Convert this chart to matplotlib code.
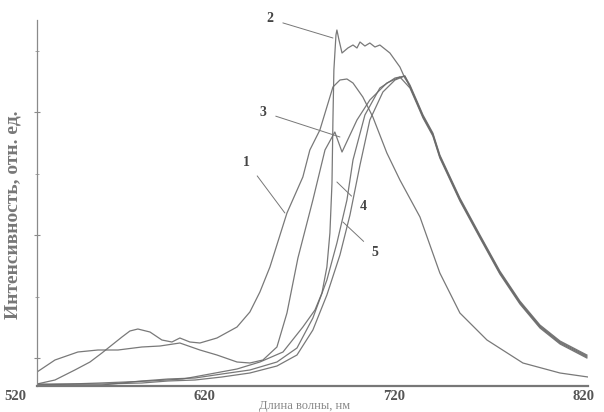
import matplotlib.pyplot as plt
from matplotlib.transforms import blended_transform_factory

# wavelength (nm) / intensity (arb. units)
wl_1 = [531.3, 540.8, 551.3, 559.3, 565.6, 570.9, 576.2, 580.4, 584.6, 591.0,
        597.3, 602.6, 606.8, 612.1, 617.4, 626.4, 637.0, 643.8, 649.1, 654.4,
        663.4, 671.8, 675.5, 680.8, 687.7, 691.4, 695.1, 698.3, 703.5, 708.8,
        716.2, 723.1, 733.7, 744.2, 754.8, 769.1, 788.1, 807.7, 822.5]
int_1 = [2, 6, 16, 24, 33, 41, 49, 55, 57, 54,
         46, 44, 48, 44, 43, 48, 59, 74, 94, 119,
         173, 209, 236, 256, 299, 306, 307, 303, 289, 269,
         233, 206, 169, 113, 73, 46, 23, 13, 9]

wl_2 = [531.3, 548.7, 564.6, 591.0, 608.4, 622.7, 637.0, 649.1, 661.3, 671.8,
        678.2, 681.9, 684.5, 686.1, 687.2, 687.7, 688.2, 689.3, 689.8, 690.9,
        692.5, 695.6, 698.3, 700.4, 702.0, 704.6, 707.2, 709.9, 712.5, 717.8,
        723.1, 725.7, 728.4, 732.1, 735.3, 740.5, 744.2, 754.8, 765.4, 775.9,
        786.5, 797.1, 807.7, 821.9]
int_2 = [1, 2, 3, 5, 7, 12, 17, 24, 34, 59,
         76, 93, 119, 153, 203, 266, 316, 351, 356, 346,
         333, 338, 341, 338, 344, 340, 343, 339, 341, 333,
         319, 308, 300, 284, 270, 252, 230, 187, 150, 114,
         84, 60, 44, 30]

wl_3 = [531.3, 540.8, 552.9, 563.5, 574.1, 586.7, 596.3, 606.8, 617.4, 626.4,
        637.0, 643.8, 650.7, 658.1, 663.4, 669.2, 677.1, 683.5, 688.7, 692.5,
        696.7, 700.4, 707.2, 716.2, 723.1, 728.4, 732.1, 735.3, 740.5, 744.2,
        754.8, 765.4, 775.9, 786.5, 797.1, 807.7, 821.9]
int_3 = [14, 26, 34, 36, 36, 39, 40, 43, 36, 31,
         24, 23, 26, 39, 73, 128, 186, 236, 254, 234,
         251, 266, 286, 303, 309, 298, 282, 268, 250, 228,
         185, 148, 112, 82, 58, 42, 28]

wl_4 = [531.3, 547.6, 565.6, 576.2, 586.7, 600.5, 614.8, 629.0, 643.8, 658.1,
        668.7, 677.1, 684.5, 689.8, 695.1, 698.3, 704.6, 712.5, 720.5, 725.7,
        728.4, 732.1, 735.3, 740.5, 744.2, 754.8, 765.4, 775.9, 786.5, 797.1,
        807.7, 821.9]
int_4 = [1, 1, 1, 3, 5, 7, 8, 12, 16, 24,
         38, 68, 106, 143, 186, 226, 271, 298, 308, 310,
         299, 283, 269, 251, 229, 186, 149, 113, 83, 59,
         43, 29]

wl_5 = [531.3, 547.6, 565.6, 586.7, 600.5, 614.8, 629.0, 643.8, 658.1, 668.7,
        677.1, 684.5, 691.4, 696.7, 702.0, 707.2, 714.1, 720.5, 725.7, 728.4,
        732.1, 735.3, 740.5, 744.2, 754.8, 765.4, 775.9, 786.5, 797.1, 807.7,
        821.9]
int_5 = [2, 2, 2, 3, 5, 6, 9, 13, 20, 31,
         56, 91, 131, 171, 221, 266, 294, 306, 310, 301,
         285, 271, 253, 231, 188, 151, 115, 85, 61, 45,
         31]

curves = [(wl_1, int_1), (wl_2, int_2), (wl_3, int_3), (wl_4, int_4), (wl_5, int_5)]

# curve number: (point on curve, label position)
labels = {
    "1": ((662.3, 173), (642.2, 224)),
    "2": ((687.7, 348), (654.4, 367)),
    "3": ((691.4, 249), (650.7, 274)),
    "4": ((689.8, 204), (703.5, 179)),
    "5": ((693.0, 164), (709.9, 134)),
}

x_ticks = [520, 620, 720, 820]

serif = ["Liberation Serif", "DejaVu Serif"]
line_col = "#6a6a6a"

fig = plt.figure(figsize=(6.04, 4.12), dpi=100)
ax = fig.add_axes([37 / 604, 26 / 412, 551 / 604, 366 / 412])

for wl, inten in curves:
    ax.plot(wl, inten, color=line_col, lw=0.9, alpha=0.9)

for name, (pt, txt) in labels.items():
    ax.annotate(name, xy=pt, xytext=txt, ha="center", va="center",
                fontsize=10, fontweight="bold", family=serif, color="#444444",
                arrowprops=dict(arrowstyle="-", color="#777777", lw=0.7,
                                shrinkA=5, shrinkB=0),
                annotation_clip=False)

ax.set_xlim(531.3, 822.5)
ax.set_ylim(0, 366)

for side in ["top", "right"]:
    ax.spines[side].set_visible(False)
ax.spines["left"].set_color("#8a8a8a")
ax.spines["left"].set_linewidth(0.9)
ax.spines["bottom"].set_color("#777777")
ax.spines["bottom"].set_linewidth(1.6)

ax.set_yticks([28, 151, 274])
ax.set_yticks([89, 212, 335], minor=True)
ax.tick_params(axis="y", which="major", direction="inout", length=5,
               color="#8a8a8a", labelleft=False)
ax.tick_params(axis="y", which="minor", direction="inout", length=2.5,
               color="#9a9a9a")

# 520 lies left of the y axis in the scan, so it is written as text
ax.set_xticks([t for t in x_ticks if t >= 531.3])
ax.tick_params(axis="x", length=0, pad=3)
for lbl in ax.get_xticklabels():
    lbl.set_fontfamily(serif)
    lbl.set_fontweight("bold")
    lbl.set_fontsize(10.5)
    lbl.set_color("#555555")
trans = blended_transform_factory(ax.transData, ax.transAxes)
ax.text(x_ticks[0], -0.012, str(x_ticks[0]), transform=trans, ha="center",
        va="top", fontsize=10.5, fontweight="bold", family=serif,
        color="#555555", clip_on=False)

ax.set_xlabel("Длина волны, нм", fontsize=9, family=serif, color="#888888")
ax.xaxis.set_label_coords((305 - 37) / 551, -0.037)
ax.set_ylabel("Интенсивность, отн. ед.", fontsize=14, fontweight="bold",
              family=serif, color="#777777")
ax.yaxis.set_label_coords(-15 / 551, (386 - 215) / 366)

fig.savefig("out.png", dpi=100)
